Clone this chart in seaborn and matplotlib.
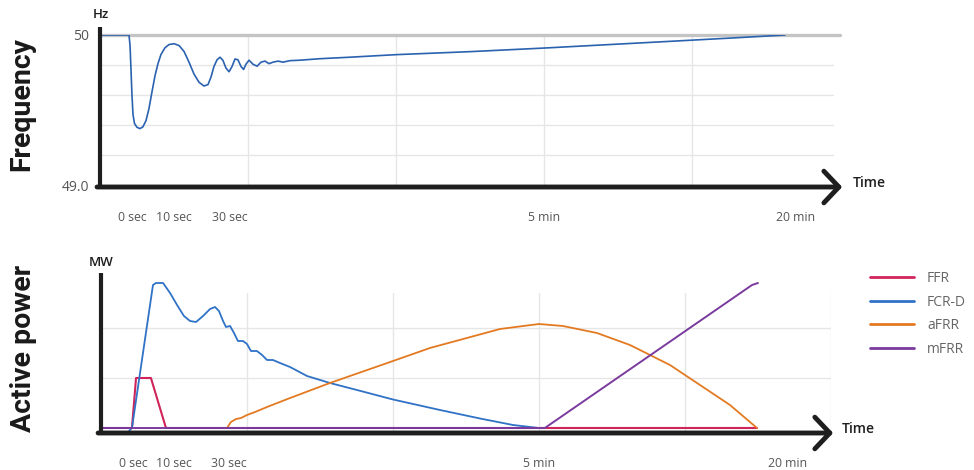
"""
Frequency response after a disturbance and the reserves that restore it
(FFR, FCR-D, aFRR, mFRR). Two stacked panels with arrow-style time axes.
"""

import pandas as pd
import matplotlib.pyplot as plt
import seaborn as sns
from matplotlib.lines import Line2D

# ── Data (x in grid units: one unit = one vertical grid column) ──────────────
freq_x = [0.0, 0.196, 0.203, 0.209, 0.216, 0.223, 0.233, 0.250, 0.270, 0.290,
          0.311, 0.331, 0.351, 0.372, 0.392, 0.412, 0.439, 0.466, 0.500, 0.534,
          0.568, 0.601, 0.635, 0.669, 0.703, 0.730, 0.750, 0.770, 0.791, 0.811,
          0.831, 0.851, 0.872, 0.892, 0.912, 0.932, 0.953, 0.970, 0.986, 1.007,
          1.034, 1.061, 1.088, 1.115, 1.142, 1.169, 1.203, 1.236, 1.284, 1.351,
          1.486, 1.689, 2.0, 2.5, 3.0, 3.514, 4.007, 4.324, 4.628]
freq_hz = [50.0, 50.0, 49.93, 49.78, 49.60, 49.47, 49.41, 49.385, 49.376, 49.388,
           49.43, 49.51, 49.62, 49.73, 49.81, 49.87, 49.915, 49.936, 49.942, 49.93,
           49.89, 49.82, 49.74, 49.685, 49.66, 49.67, 49.72, 49.79, 49.835, 49.852,
           49.83, 49.78, 49.755, 49.79, 49.84, 49.835, 49.79, 49.77, 49.805, 49.832,
           49.805, 49.792, 49.819, 49.826, 49.809, 49.819, 49.826, 49.819, 49.829, 49.832,
           49.842, 49.852, 49.869, 49.889, 49.913, 49.94, 49.966, 49.983, 50.0]

ffr_x  = [0.0, 0.212, 0.240, 0.342, 0.445, 4.493]
ffr_mw = [0.0, 0.0, 1.0, 1.0, 0.0, 0.0]

fcrd_x  = [0.192, 0.212, 0.356, 0.377, 0.425, 0.473, 0.521, 0.568, 0.610, 0.651,
           0.699, 0.747, 0.781, 0.808, 0.836, 0.856, 0.884, 0.911, 0.938, 0.973,
           1.0, 1.027, 1.068, 1.103, 1.137, 1.178, 1.226, 1.295, 1.411, 1.568,
           1.753, 2.0, 2.322, 2.596, 2.822, 3.0]
fcrd_mw = [-0.06, 0.0, 2.86, 2.9, 2.9, 2.7, 2.46, 2.24, 2.14, 2.12,
           2.24, 2.38, 2.42, 2.34, 2.14, 2.02, 2.04, 1.9, 1.74, 1.74,
           1.68, 1.54, 1.54, 1.46, 1.36, 1.36, 1.3, 1.22, 1.04, 0.9,
           0.76, 0.57, 0.36, 0.19, 0.06, 0.0]

afrr_x  = [0.863, 0.890, 0.925, 0.959, 1.0, 1.055, 1.137, 1.295, 1.568, 1.774,
           2.0, 2.253, 2.733, 3.0, 3.164, 3.397, 3.623, 3.897, 4.082, 4.308, 4.493]
afrr_mw = [0.0, 0.12, 0.18, 0.2, 0.26, 0.32, 0.42, 0.6, 0.9, 1.11,
           1.34, 1.6, 1.98, 2.08, 2.04, 1.9, 1.66, 1.26, 0.9, 0.46, 0.0]

mfrr_x  = [0.0, 3.04, 4.459, 4.5]
mfrr_mw = [0.0, 0.0, 2.86, 2.9]

series_names  = ["FFR", "FCR-D", "aFRR", "mFRR"]
series_colors = ["#d0245a", "#2f72c6", "#e37a22", "#7a3a9e"]

tick_pos    = [0.22, 0.50, 0.875, 3.0, 4.70]
tick_labels = ["0 sec", "10 sec", "30 sec", "5 min", "20 min"]

# ── Style ────────────────────────────────────────────────────────────────────
sns.set_theme(style="white")
plt.rcParams["font.family"] = ["Open Sans", "DejaVu Sans"]
plt.rcParams["lines.solid_joinstyle"] = "round"

INK   = "#1e1e1e"
GRID  = "#e6e6e6"
MUTED = "#555555"
W, H  = 974, 470


def px_axes(left, top, right, bottom):
    return [left / W, 1 - bottom / H, (right - left) / W, (bottom - top) / H]


def draw_axes_lines(ax, spine_top):
    # thick left spine that pokes above the plot, arrow for the time axis
    ax.plot([0, 0], [0, spine_top], transform=ax.transAxes, color=INK, lw=3,
            solid_capstyle="butt", clip_on=False, zorder=5)
    ax.annotate("", xy=(1.003, 0), xytext=(-0.004, 0), xycoords="axes fraction",
                arrowprops=dict(arrowstyle="->,head_length=0.9,head_width=0.95",
                                lw=3.5, color=INK, shrinkA=0, shrinkB=0),
                annotation_clip=False, zorder=5)
    for s in ax.spines.values():
        s.set_visible(False)
    ax.set_xticks(tick_pos, tick_labels)
    ax.tick_params(axis="x", length=0, pad=17, labelsize=8.8, labelcolor=MUTED)
    ax.set_xlabel("")
    ax.set_ylabel("")


fig = plt.figure(figsize=(W / 100, H / 100), dpi=100)

# ── Top panel: frequency ─────────────────────────────────────────────────────
ax1 = fig.add_axes(px_axes(100, 35, 840, 187))
ax1.set_xlim(0, 5)
ax1.set_ylim(48.987, 50.0)
for y in [49.2, 49.4, 49.6, 49.8]:
    ax1.axhline(y, xmax=0.99, color=GRID, lw=1, zorder=0)
for x in [1, 2, 3, 4]:
    ax1.axvline(x, color=GRID, lw=1, zorder=0)
ax1.axhline(50.0, color="#c4c4c4", lw=2.4, zorder=1, clip_on=False)
sns.lineplot(x=freq_x, y=freq_hz, ax=ax1, color="#2a62b0", lw=1.2,
             sort=False, estimator=None, zorder=3)
draw_axes_lines(ax1, 1.053)
ax1.set_yticks([49.0, 50.0], ["49.0", "50"])
ax1.tick_params(axis="y", length=0, pad=8, labelsize=10, labelcolor=MUTED)

# ── Bottom panel: active power ───────────────────────────────────────────────
ax2 = fig.add_axes(px_axes(101, 278, 831, 433))
ax2.set_xlim(0, 5)
ax2.set_ylim(-0.1, 3.0)

power = pd.concat([
    pd.DataFrame({"t": ffr_x,  "mw": ffr_mw,  "series": "FFR"}),
    pd.DataFrame({"t": fcrd_x, "mw": fcrd_mw, "series": "FCR-D"}),
    pd.DataFrame({"t": afrr_x, "mw": afrr_mw, "series": "aFRR"}),
    pd.DataFrame({"t": mfrr_x, "mw": mfrr_mw, "series": "mFRR"}),
], ignore_index=True)

sns.lineplot(data=power, x="t", y="mw", hue="series", hue_order=series_names,
             palette=series_colors, sort=False, estimator=None, lw=1.3,
             legend=False, ax=ax2, zorder=3)
ax2.get_lines()[0].set_linewidth(1.5)
ax2.get_lines()[3].set_linewidth(1.4)

for y in [1, 2]:
    ax2.axhline(y, color=GRID, lw=1, zorder=0)
for x in [1, 2, 3, 4, 5]:
    ax2.axvline(x, ymax=0.903, color=GRID, lw=1, zorder=0)
draw_axes_lines(ax2, 1.032)
ax2.set_yticks([])

# ── Labels ───────────────────────────────────────────────────────────────────
fig.text(101 / W, 1 - 14 / H, "Hz", ha="center", va="center", fontsize=9.5,
         fontweight="semibold", color=INK)
fig.text(101 / W, 1 - 263 / H, "MW", ha="center", va="center", fontsize=9.5,
         fontweight="semibold", color=INK)
fig.text(853 / W, 1 - 183 / H, "Time", ha="left", va="center", fontsize=10,
         fontweight="semibold", color=INK)
fig.text(842 / W, 1 - 429 / H, "Time", ha="left", va="center", fontsize=10,
         fontweight="semibold", color=INK)
fig.text(22 / W, 1 - 104 / H, "Frequency", rotation=90, ha="center", va="center",
         fontsize=20.5, fontweight="bold", family="Roboto", color="#1a1a1a")
fig.text(24 / W, 1 - 348 / H, "Active power", rotation=90, ha="center", va="center",
         fontsize=20.5, fontweight="bold", family="Roboto", color="#1a1a1a")

# ── Legend ───────────────────────────────────────────────────────────────────
handles = [Line2D([], [], color=c, lw=2) for c in series_colors]
fig.legend(handles, series_names, loc="upper left",
           bbox_to_anchor=(870 / W, 1 - 271 / H), frameon=False, fontsize=10,
           handlelength=3.2, handletextpad=0.9, labelspacing=0.62,
           borderpad=0, borderaxespad=0, labelcolor="#666666")

fig.savefig("out.png", dpi=100)
plt.close(fig)
